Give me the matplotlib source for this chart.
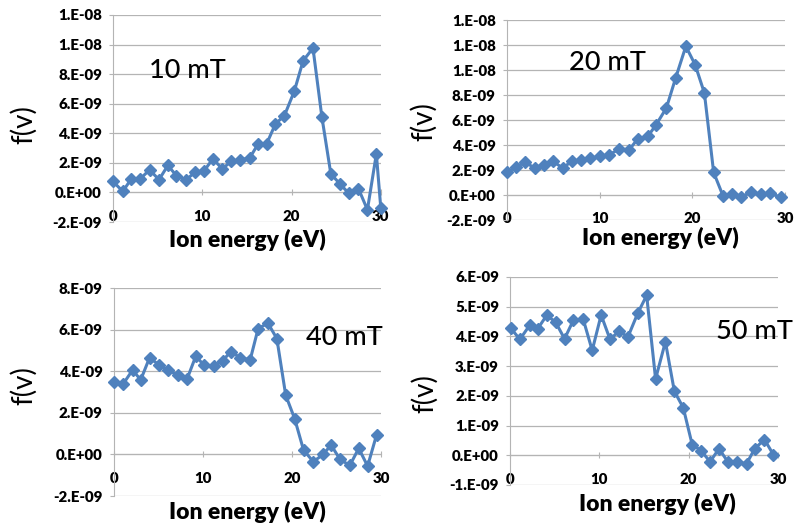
import math
import matplotlib
matplotlib.use("Agg")
import matplotlib.pyplot as plt
from matplotlib.ticker import FuncFormatter

plt.rcParams['font.family'] = ['Lato', 'DejaVu Sans']

# Datos: energía (eV) y f(v)
x_10 = [0, 1.1, 2.05, 3.05, 4.1, 5.15, 6.15, 7.1, 8.2, 9.15, 10.15, 11.2, 12.25, 13.2, 14.2,
        15.3, 16.25, 17.2, 18.2, 19.2, 20.3, 21.3, 22.4, 23.4, 24.4, 25.4, 26.4, 27.5, 28.5, 29.5, 30.0]
f_10 = [0.74e-9, 0.07e-9, 0.92e-9, 0.92e-9, 1.53e-9, 0.86e-9, 1.83e-9, 1.13e-9, 0.86e-9, 1.35e-9,
        1.42e-9, 2.28e-9, 1.58e-9, 2.10e-9, 2.20e-9, 2.32e-9, 3.27e-9, 3.27e-9, 4.64e-9, 5.19e-9,
        6.83e-9, 8.90e-9, 9.76e-9, 5.10e-9, 1.26e-9, 0.59e-9, -0.05e-9, 0.25e-9, -1.17e-9, 2.60e-9, -1.06e-9]

x_20 = [0, 1.0, 2.0, 3.0, 4.0, 5.0, 6.0, 7.0, 8.0, 9.0, 10.0, 11.0, 12.1, 13.2, 14.1,
        15.2, 16.1, 17.2, 18.2, 19.3, 20.3, 21.3, 22.3, 23.3, 24.3, 25.3, 26.3, 27.4, 28.4, 29.6]
f_20 = [1.81e-9, 2.27e-9, 2.61e-9, 2.16e-9, 2.43e-9, 2.69e-9, 2.16e-9, 2.69e-9, 2.83e-9, 2.93e-9,
        3.09e-9, 3.20e-9, 3.68e-9, 3.63e-9, 4.48e-9, 4.69e-9, 5.63e-9, 6.96e-9, 9.36e-9, 11.9e-9,
        10.43e-9, 8.16e-9, 1.81e-9, -0.05e-9, 0.08e-9, -0.13e-9, 0.21e-9, 0.08e-9, 0.13e-9, -0.19e-9]

x_40 = [0, 1.05, 2.1, 3.0, 4.0, 5.1, 6.1, 7.2, 8.2, 9.2, 10.1, 11.2, 12.2, 13.1, 14.2,
        15.3, 16.2, 17.3, 18.3, 19.3, 20.3, 21.3, 22.4, 23.5, 24.4, 25.4, 26.5, 27.5, 28.5, 29.5]
f_40 = [3.48e-9, 3.40e-9, 4.06e-9, 3.58e-9, 4.65e-9, 4.29e-9, 4.06e-9, 3.80e-9, 3.61e-9, 4.73e-9,
        4.29e-9, 4.25e-9, 4.49e-9, 4.94e-9, 4.65e-9, 4.54e-9, 6.05e-9, 6.31e-9, 5.57e-9, 2.84e-9,
        1.72e-9, 0.21e-9, -0.35e-9, 0.0, 0.45e-9, -0.24e-9, -0.53e-9, 0.29e-9, -0.56e-9, 0.93e-9]

x_50 = [0.1, 1.1, 2.2, 3.1, 4.1, 5.1, 6.1, 7.1, 8.2, 9.2, 10.2, 11.2, 12.2, 13.2, 14.3,
        15.3, 16.3, 17.4, 18.4, 19.4, 20.4, 21.4, 22.4, 23.4, 24.4, 25.4, 26.5, 27.4, 28.5, 29.5]
f_50 = [4.27e-9, 3.90e-9, 4.38e-9, 4.26e-9, 4.71e-9, 4.48e-9, 3.92e-9, 4.55e-9, 4.57e-9, 3.53e-9,
        4.72e-9, 3.90e-9, 4.18e-9, 3.98e-9, 4.78e-9, 5.38e-9, 2.57e-9, 3.82e-9, 2.16e-9, 1.60e-9,
        0.36e-9, 0.16e-9, -0.22e-9, 0.22e-9, -0.22e-9, -0.24e-9, -0.28e-9, 0.22e-9, 0.53e-9, 0.02e-9]

labels = ['10 mT', '20 mT', '40 mT', '50 mT']
x_ticks = [0, 10, 20, 30]


def excel_fmt(v, pos=None):
    # formato tipo Excel "0.E+00"
    if abs(v) < 1e-15:
        return '0.E+00'
    e = int(math.floor(math.log10(abs(v)) + 1e-9))
    m = int(round(v / 10 ** e))
    if abs(m) == 10:
        m = m // 10
        e += 1
    return f"{m}.E{e:+03d}"


fig = plt.figure(figsize=(7.97, 5.27), dpi=100)

# [left, bottom, width, height], yticks, posición del texto, posición de etiquetas
panels = [
    dict(x=x_10, y=f_10, rect=[0.1418, 0.5787, 0.336, 0.393],
         yticks=[i * 2e-9 for i in range(-1, 7)], txt=(0.135, 0.734),
         xl=(0.5, -0.035), yl=(-0.285, 0.47)),
    dict(x=x_20, y=f_20, rect=[0.636, 0.5825, 0.349, 0.3795],
         yticks=[i * 2e-9 for i in range(-1, 8)], txt=(0.222, 0.79),
         xl=(0.55, -0.035), yl=(-0.252, 0.49)),
    dict(x=x_40, y=f_40, rect=[0.143, 0.0588, 0.335, 0.3947],
         yticks=[i * 2e-9 for i in range(-1, 5)], txt=(0.718, 0.76),
         xl=(0.5, -0.025), yl=(-0.288, 0.53)),
    dict(x=x_50, y=f_50, rect=[0.640, 0.0797, 0.336, 0.3947],
         yticks=[i * 1e-9 for i in range(-1, 7)], txt=(0.768, 0.736),
         xl=(0.55, -0.04), yl=(-0.269, 0.44)),
]

grid_c = '#B4B4B4'
blue = '#4F81BD'

for p, lab in zip(panels, labels):
    ax = fig.add_axes(p['rect'])
    ax.plot(p['x'], p['y'], color=blue, linewidth=2.2, marker='D',
            markersize=5.8, markeredgewidth=1.0, clip_on=False, zorder=3)
    ax.set_xlim(0, 30)
    ax.set_ylim(p['yticks'][0], p['yticks'][-1])
    ax.set_yticks(p['yticks'])
    ax.set_xticks(x_ticks)
    ax.yaxis.set_major_formatter(FuncFormatter(excel_fmt))
    ax.grid(True, axis='y', color=grid_c, linewidth=0.9)
    ax.set_axisbelow(True)

    for s in ['top', 'right']:
        ax.spines[s].set_visible(False)
    ax.spines['left'].set_color(grid_c)
    ax.spines['bottom'].set_color(grid_c)
    ax.spines['bottom'].set_position(('data', 0))

    ax.tick_params(axis='y', direction='out', length=3, color=grid_c, pad=5,
                   labelsize=10.8)
    ax.tick_params(axis='x', direction='inout', length=5, color=grid_c, pad=10,
                   labelsize=10.8)
    for t in ax.get_yticklabels() + ax.get_xticklabels():
        t.set_fontweight('heavy')

    ax.set_xlabel('Ion energy (eV)', fontsize=16.5, fontweight='heavy')
    ax.xaxis.set_label_coords(*p['xl'])
    ax.set_ylabel('f(v)', fontsize=20)
    ax.yaxis.set_label_coords(*p['yl'])

    ax.text(p['txt'][0], p['txt'][1], lab, transform=ax.transAxes,
            fontsize=19.5, va='center', ha='left', fontweight='medium')

plt.savefig('out.png', dpi=100)
plt.close()
